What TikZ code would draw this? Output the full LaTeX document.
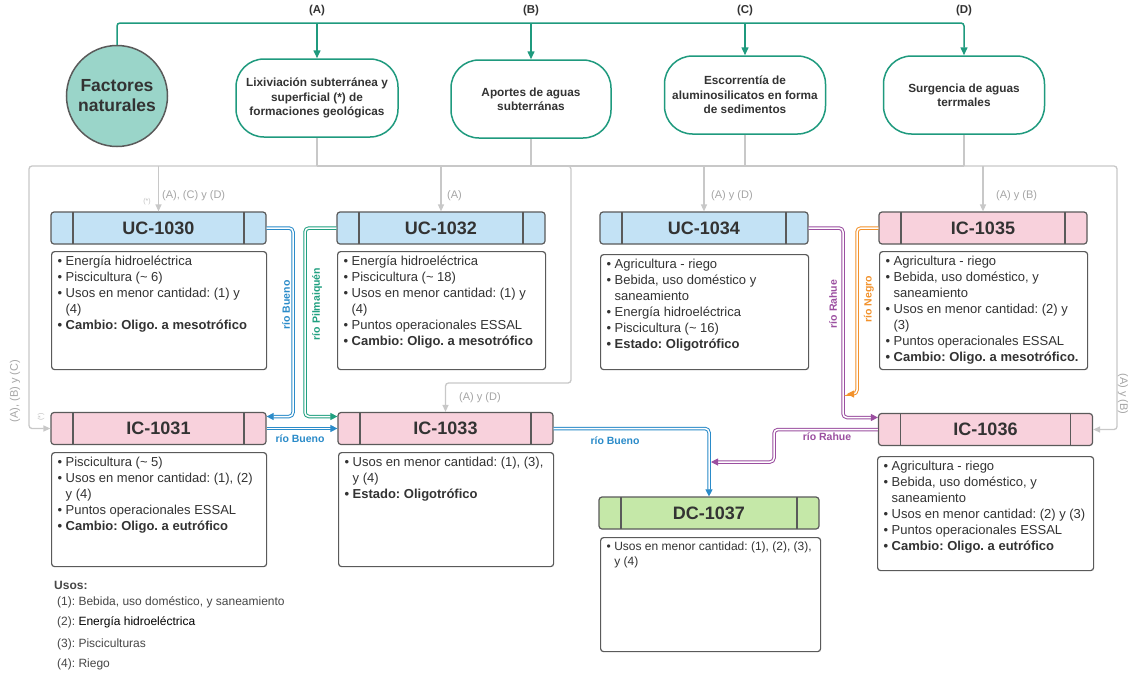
\documentclass[tikz,border=0pt]{standalone}
\usepackage{fontspec}
\setmainfont{Liberation Sans}
\usetikzlibrary{arrows.meta}
\frenchspacing
\definecolor{teal1}{HTML}{1F9A7E}
\definecolor{circfill}{HTML}{9AD5C9}
\definecolor{ucblue}{HTML}{C3E2F5}
\definecolor{icpink}{HTML}{F8D1DC}
\definecolor{dcgreen}{HTML}{C5E8A8}
\definecolor{boxline}{HTML}{5A5A5A}
\definecolor{txt}{HTML}{333333}
\definecolor{glin}{HTML}{C8C8C8}
\definecolor{glab}{HTML}{A5A5A5}
\definecolor{rblue}{HTML}{2A8BC9}
\definecolor{rgreen}{HTML}{20A080}
\definecolor{rpurple}{HTML}{9B4FA0}
\definecolor{rorange}{HTML}{F2922C}
\newcommand\bul{\textbullet}
\newcommand\bodyfont{\fontsize{13}{16}\selectfont\color{txt}\frenchspacing}
\newcommand\bodybox[6]{\node[bodyst, minimum width=#4pt, minimum height=#5pt] (#1) at (#2,#3)
  {\begin{minipage}[t][\dimexpr#5pt-5pt\relax][t]{\dimexpr#4pt-12pt\relax}\bodyfont
   \begin{tabular}[t]{@{}l@{\hspace{3.5pt}}l@{}}#6\end{tabular}\end{minipage}};}
\begin{document}
\begin{tikzpicture}[x=1pt,y=-1pt,
  circ/.style={circle, draw=boxline, line width=1.5pt, fill=circfill, minimum size=101pt, inner sep=0pt,
    align=center, text=txt, font=\fontsize{17.5}{20}\selectfont\bfseries},
  topbox/.style={draw=teal1, line width=1.5pt, rounded corners=28pt, fill=white, align=center,
    text=txt, inner sep=0pt, font=\fontsize{11.8}{14.3}\selectfont\bfseries},
  hdr/.style={draw=boxline, line width=1.2pt, rounded corners=3pt, minimum height=32pt, inner sep=0pt,
    text=txt, font=\fontsize{18}{20}\selectfont\bfseries,
    path picture={\draw[boxline, line width=1.2pt]
      ([xshift=22pt]path picture bounding box.north west) -- ([xshift=22pt]path picture bounding box.south west)
      ([xshift=-22pt]path picture bounding box.north east) -- ([xshift=-22pt]path picture bounding box.south east);}},
  bodyst/.style={draw=boxline, line width=1.2pt, rounded corners=3pt, fill=white, anchor=north west,
    inner xsep=6pt, inner ysep=2.5pt},
  tline/.style={draw=teal1, line width=1.5pt, rounded corners=3pt},
  tarrow/.style={tline, -{Triangle[length=8pt,width=7pt]}},
  toplab/.style={inner sep=0pt, text=txt, font=\fontsize{11.5}{13}\selectfont\bfseries},
  gline/.style={draw=glin, line width=1.3pt, rounded corners=3pt},
  garrow/.style={gline, -{Triangle[length=7pt,width=6pt]}},
  glabst/.style={inner sep=0pt, text=glab, font=\fontsize{11}{13}\selectfont},
  gstar/.style={inner sep=0pt, text=glab!70, font=\fontsize{7}{8}\selectfont},
  riv/.style={draw=#1, line width=1pt, double=white, double distance=1.5pt, rounded corners=4pt,
    -{Triangle[length=7pt,width=7pt]}},
  rlab/.style={inner sep=0pt, font=\fontsize{10.5}{12}\selectfont\bfseries},
  leg/.style={inner sep=0pt, anchor=west, text=black!72, font=\fontsize{12}{14}\selectfont}
]
\useasboundingbox (0,0) rectangle (1133,673);
\fill[white] (0,0) rectangle (1133,673);

% top row
\node[circ] (fn) at (117,96) {Factores\\naturales};
\node[topbox, minimum width=162pt, minimum height=78pt] (lix) at (317,98) {Lixiviación subterránea y\\superficial (*) de\\formaciones geológicas};
\node[topbox, minimum width=160pt, minimum height=78pt] (apo) at (531,99) {Aportes de aguas\\subterránas};
\node[topbox, minimum width=161pt, minimum height=78pt] (esc) at (745,95) {Escorrentía de\\aluminosilicatos en forma\\de sedimentos};
\node[topbox, minimum width=161pt, minimum height=78pt] (sur) at (964,95) {Surgencia de aguas\\terrmales};

\coordinate (tl) at (0,23);
\draw[tarrow] (fn.north) |- (sur.north |- tl) -- (sur.north);
\draw[tarrow] (lix.north |- tl) -- (lix.north);
\draw[tarrow] (apo.north |- tl) -- (apo.north);
\draw[tarrow] (esc.north |- tl) -- (esc.north);
\node[toplab, above=7pt] (la) at (lix.north |- tl) {(A)};
\node[toplab, above=7pt] (lb) at (apo.north |- tl) {(B)};
\node[toplab, above=7pt] (lc) at (esc.north |- tl) {(C)};
\node[toplab, above=7pt] (ld) at (sur.north |- tl) {(D)};

% headers
\node[hdr, fill=ucblue, minimum width=215pt] (uc1030) at (158.5,228) {UC-1030};
\node[hdr, fill=ucblue, minimum width=208pt] (uc1032) at (441,228) {UC-1032};
\node[hdr, fill=ucblue, minimum width=208pt] (uc1034) at (704,228) {UC-1034};
\node[hdr, fill=icpink, minimum width=208pt] (ic1035) at (983,228) {IC-1035};
\node[hdr, fill=icpink, minimum width=215pt] (ic1031) at (158.5,428.5) {IC-1031};
\node[hdr, fill=icpink, minimum width=215pt] (ic1033) at (445.5,428.5) {IC-1033};
\node[hdr, fill=icpink, minimum width=214pt] (ic1036) at (985.5,429.5) {IC-1036};
\node[hdr, fill=dcgreen, minimum width=220pt] (dc1037) at (709,513) {DC-1037};

% bodies
\bodybox{b1030}{51}{251}{215}{118}{%
\bul & Energía hidroeléctrica\\
\bul & Piscicultura (\textasciitilde\ 6)\\
\bul & Usos en menor cantidad: (1) y\\
 & (4)\\
\textbf{\bul} & \textbf{Cambio: Oligo. a mesotrófico}}
\bodybox{b1032}{337}{251}{208}{118}{%
\bul & Energía hidroeléctrica\\
\bul & Piscicultura (\textasciitilde\ 18)\\
\bul & Usos en menor cantidad: (1) y\\
 & (4)\\
\bul & Puntos operacionales ESSAL\\
\textbf{\bul} & \textbf{Cambio: Oligo. a mesotrófico}}
\bodybox{b1034}{600}{254}{208}{115}{%
\bul & Agricultura - riego\\
\bul & Bebida, uso doméstico y\\
 & saneamiento\\
\bul & Energía hidroeléctrica\\
\bul & Piscicultura (\textasciitilde\ 16)\\
\textbf{\bul} & \textbf{Estado: Oligotrófico}}
\bodybox{b1035}{879}{251}{208}{118}{%
\bul & Agricultura - riego\\
\bul & Bebida, uso doméstico, y\\
 & saneamiento\\
\bul & Usos en menor cantidad: (2) y\\
 & (3)\\
\bul & Puntos operacionales ESSAL\\
\textbf{\bul} & \textbf{Cambio: Oligo. a mesotrófico.}}
\bodybox{b1031}{51}{452}{215}{114}{%
\bul & Piscicultura (\textasciitilde\ 5)\\
\bul & Usos en menor cantidad: (1), (2)\\
 & y (4)\\
\bul & Puntos operacionales ESSAL\\
\textbf{\bul} & \textbf{Cambio: Oligo. a eutrófico}}
\bodybox{b1033}{338}{452}{215}{114}{%
\bul & Usos en menor cantidad: (1), (3),\\
 & y (4)\\
\textbf{\bul} & \textbf{Estado: Oligotrófico}}
\bodybox{b1036}{877}{456}{216}{114}{%
\bul & Agricultura - riego\\
\bul & Bebida, uso doméstico, y\\
 & saneamiento\\
\bul & Usos en menor cantidad: (2) y (3)\\
\bul & Puntos operacionales ESSAL\\
\textbf{\bul} & \textbf{Cambio: Oligo. a eutrófico}}
\node[bodyst, minimum width=220pt, minimum height=114pt] (b1037) at (600,537)
  {\begin{minipage}[t][109pt][t]{208pt}\fontsize{12}{15}\selectfont\color{txt}\frenchspacing
   \begin{tabular}[t]{@{}l@{\hspace{3.5pt}}l@{}}\bul & Usos en menor cantidad: (1), (2), (3),\\ & y (4)\end{tabular}\end{minipage}};

% gray network
\coordinate (bus) at (0,166);
\coordinate (lx) at (29,166);
\coordinate (rx) at (1117,166);
\coordinate (mx) at (571,383);
\draw[gline] (lix.south |- bus) -- (sur.south |- bus);
\draw[gline] (lix.south) -- (lix.south |- bus);
\draw[gline] (apo.south) -- (apo.south |- bus);
\draw[gline] (esc.south) -- (esc.south |- bus);
\draw[gline] (sur.south) -- (sur.south |- bus);
\draw[garrow] (uc1030.north |- bus) -- (uc1030.north);
\draw[garrow] (uc1032.north |- bus) -- (uc1032.north);
\draw[garrow] (uc1034.north |- bus) -- (uc1034.north);
\draw[garrow] (ic1035.north |- bus) -- (ic1035.north);
\draw[garrow] (lix.south |- bus) -- (lx) |- (ic1031.west);
\draw[garrow] (sur.south |- bus) -- (rx) |- (ic1036.east);
\draw[garrow] (apo.south |- bus) -| (mx) -| (ic1033.north);

\node[glabst, anchor=west] (g1) at (162,196) {(A), (C) y (D)};
\node[gstar] (s1) at (147,202) {(*)};
\node[glabst, anchor=west] (g2) at (447,196) {(A)};
\node[glabst, anchor=west] (g3) at (459,398) {(A) y (D)};
\node[glabst, anchor=west] (g4) at (711,196) {(A) y (D)};
\node[glabst, anchor=west] (g5) at (996,196) {(A) y (B)};
\node[glabst, rotate=90] (g6) at (15,391) {(A), (B) y (C)};
\node[gstar, rotate=90] (s2) at (41,417) {(*)};
\node[glabst, rotate=-90] (g7) at (1123,394) {(A) y (B)};

% rivers
\coordinate (bA) at (293,300);
\coordinate (bP) at (305,300);
\coordinate (bR) at (843,300);
\coordinate (bN) at (857,300);
\coordinate (negroEnd) at (847,394);
\coordinate (bR2) at (774,445);
\coordinate (rahueEnd) at (711,462);
\draw[riv=rblue] (uc1030.east) -| (bA) |- ([yshift=12pt]ic1031.east);
\draw[riv=rgreen] (uc1032.west) -| (bP) |- ([yshift=12pt]ic1033.west);
\draw[riv=rblue] (ic1031.east) -- (ic1033.west);
\draw[riv=rblue] (ic1033.east) -| (dc1037.north);
\draw[riv=rpurple] (uc1034.east) -| (bR) |- ([yshift=12pt]ic1036.west);
\draw[riv=rorange] (ic1035.west) -| (bN) |- (negroEnd);
\draw[riv=rpurple] (ic1036.west) -| (bR2) |- (rahueEnd);

\node[rlab, text=rblue, rotate=90] (rb1) at (286,305) {río Bueno};
\node[rlab, text=rgreen, rotate=90] (rp) at (317,304) {río Pilmaiquén};
\node[rlab, text=rblue] (rb2) at (300,439) {río Bueno};
\node[rlab, text=rblue] (rb3) at (615,441) {río Bueno};
\node[rlab, text=rpurple, rotate=90] (rr1) at (833,304) {río Rahue};
\node[rlab, text=rorange, rotate=90] (rn) at (869,299) {río Negro};
\node[rlab, text=rpurple] (rr2) at (827,437) {río Rahue};

% legend
\node[leg, font=\fontsize{12}{14}\selectfont\bfseries] (usos) at (54,585) {Usos:};
\node[leg] (l1) at (57,602) {(1): Bebida, uso doméstico, y saneamiento};
\node[leg] (l2) at (57,622) {(2): \textcolor{black}{Energía hidroeléctrica}};
\node[leg] (l3) at (57,644) {(3): Pisciculturas};
\node[leg] (l4) at (57,664) {(4): Riego};
\end{tikzpicture}
\end{document}
